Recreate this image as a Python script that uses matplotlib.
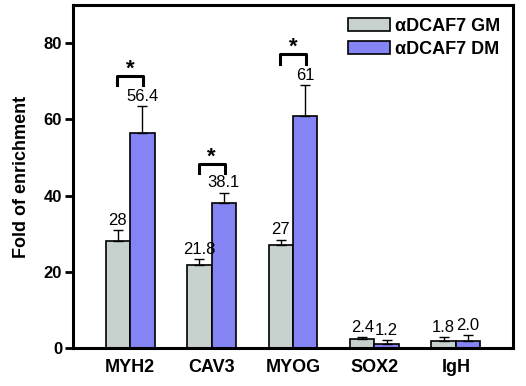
import numpy as np
import matplotlib.pyplot as plt

plt.rcParams['font.family'] = ['Liberation Sans', 'DejaVu Sans']

genes = ['MYH2', 'CAV3', 'MYOG', 'SOX2', 'IgH']
gm = [28, 21.8, 27, 2.4, 1.8]
dm = [56.4, 38.1, 61, 1.2, 2.0]
gm_err = [3.0, 1.5, 1.5, 0.5, 1.1]
dm_err = [7.0, 2.7, 8.0, 0.9, 1.4]
gm_lab = ['28', '21.8', '27', '2.4', '1.8']
dm_lab = ['56.4', '38.1', '61', '1.2', '2.0']
# significance brackets: group index, bracket top value
sig = [(0, 71.5), (1, 48.4), (2, 77.1)]

c_gm = '#c7d1ce'
c_dm = '#8484f5'
w = 0.30

fig = plt.figure(figsize=(5.26, 3.86), dpi=100)
ax = fig.add_axes([0.139, 0.098, 0.836, 0.889])

x = np.arange(len(genes))
ekw = dict(ecolor='black', elinewidth=1.0, capsize=3.5, capthick=1.0)
ax.bar(x - w/2, gm, w, color=c_gm, edgecolor='black', linewidth=1.2,
       yerr=[np.zeros(len(gm)), gm_err], error_kw=ekw, label='αDCAF7 GM')
ax.bar(x + w/2, dm, w, color=c_dm, edgecolor='black', linewidth=1.2,
       yerr=[np.zeros(len(dm)), dm_err], error_kw=ekw, label='αDCAF7 DM')

for i in range(len(genes)):
    ax.text(x[i] - w/2, gm[i] + gm_err[i] + 0.6, gm_lab[i], ha='center', va='bottom',
            fontsize=12, fontweight='medium')
    ax.text(x[i] + w/2, dm[i] + dm_err[i] + 0.6, dm_lab[i], ha='center', va='bottom',
            fontsize=12, fontweight='medium')

for g, top in sig:
    ax.plot([g - 0.16, g - 0.16, g + 0.16, g + 0.16], [top - 2.5, top, top, top - 2.5],
            color='black', linewidth=2.2)
    ax.text(g, top - 1.0, '*', ha='center', va='bottom', fontsize=16, fontweight='bold')

ax.set_xlim(-0.70, 4.70)
ax.set_ylim(0, 90)
ax.set_yticks([0, 20, 40, 60, 80])
ax.set_xticks(x)
ax.set_xticklabels(genes, fontsize=13, fontweight='bold')
ax.tick_params(axis='x', length=0, pad=8)
ax.tick_params(axis='y', length=6, width=2, labelsize=12, pad=2)
for lab in ax.get_yticklabels():
    lab.set_fontweight('bold')
for s in ax.spines.values():
    s.set_linewidth(2.2)
ax.set_ylabel('Fold of enrichment', fontsize=13, fontweight='bold', labelpad=10)

leg = ax.legend(loc='upper right', frameon=False, prop={'size': 13, 'weight': 'bold'},
                handlelength=2.3, handleheight=0.75, handletextpad=0.3, labelspacing=0.35,
                borderaxespad=0.3)

fig.savefig('out.png', dpi=100)
